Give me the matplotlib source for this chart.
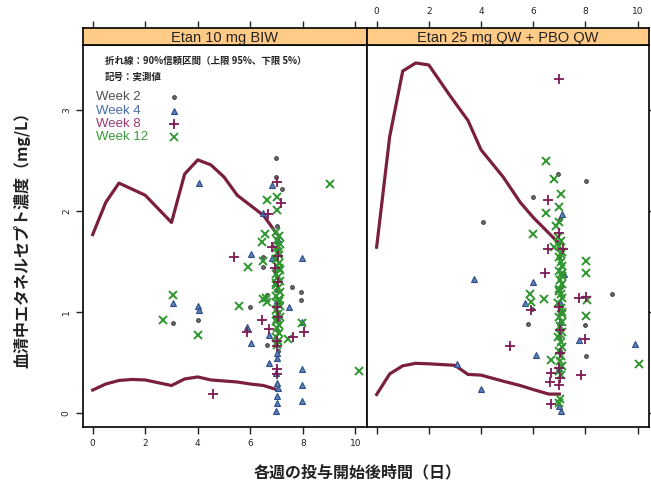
import matplotlib as mpl
mpl.use('Agg')
import matplotlib.pyplot as plt

jp = ['Noto Sans CJK JP', 'DejaVu Sans']
lat = ['Liberation Sans', 'DejaVu Sans']

panel_titles = ['Etan 10 mg BIW', 'Etan 25 mg QW + PBO QW']
week_names = ['Week 2', 'Week 4', 'Week 8', 'Week 12']

# 90% interval lines (upper 95%, lower 5%)
p1_up_x = [0, 0.5, 1, 2, 3, 3.5, 4, 4.5, 5, 5.5, 6, 6.5, 7]
p1_up_y = [1.77, 2.09, 2.28, 2.16, 1.89, 2.37, 2.51, 2.46, 2.34, 2.16, 2.06, 1.96, 1.78]
p1_lo_x = [0, 0.5, 1, 1.5, 2, 3, 3.5, 4, 4.5, 5, 5.5, 6, 6.5, 7]
p1_lo_y = [0.23, 0.29, 0.325, 0.335, 0.33, 0.275, 0.34, 0.36, 0.33, 0.32, 0.31, 0.29, 0.275, 0.235]
p2_up_x = [0, 0.5, 1, 1.5, 2, 2.8, 3.5, 4, 4.85, 5.5, 6, 6.5, 7]
p2_up_y = [1.645, 2.74, 3.39, 3.47, 3.45, 3.15, 2.9, 2.61, 2.34, 2.09, 1.94, 1.81, 1.68]
p2_lo_x = [0, 0.5, 1, 1.5, 2, 3, 3.5, 4, 4.85, 5.5, 6, 6.6, 7]
p2_lo_y = [0.186, 0.39, 0.47, 0.495, 0.49, 0.475, 0.385, 0.378, 0.318, 0.275, 0.235, 0.19, 0.19]

# observed values, panel 1
p1_w2_x = [3.06, 3.99, 5.98, 6.97, 6.97, 7.19, 6.49, 6.49, 7.6, 7.92, 7.92, 6.64, 7.02, 7.05, 7.0, 6.98, 7.04, 7.0, 7.06, 6.62]
p1_w2_y = [0.89, 0.92, 1.05, 2.53, 2.34, 2.22, 1.55, 1.45, 1.25, 1.20, 1.125, 0.68, 1.86, 1.62, 1.35, 1.22, 1.0, 0.82, 0.62, 1.17]
p1_w4_x = [3.04, 3.99, 4.03, 4.06, 6.01, 5.86, 6.01, 6.84, 6.49, 6.81, 7.98, 7.47, 6.72, 6.72, 7.97, 7.97, 7.97, 7.98,
           6.98, 7.0, 7.02, 7.04, 7.02, 7.0, 7.0, 7.02, 7.0, 7.04, 6.98]
p1_w4_y = [1.09, 1.06, 1.02, 2.28, 1.58, 0.855, 0.70, 2.26, 1.98, 1.54, 1.535, 1.05, 0.78, 0.50, 0.435, 0.285, 0.12, 0.90,
           0.02, 0.10, 0.17, 0.25, 0.30, 0.55, 0.60, 1.12, 0.95, 1.72, 0.40]
p1_w8_x = [4.56, 5.39, 5.86, 7.0, 7.15, 6.68, 6.81, 6.93, 6.43, 6.72, 8.04, 7.63, 7.02, 7.02, 7.02, 7.04, 7.0, 7.06, 7.04, 7.0]
p1_w8_y = [0.19, 1.545, 0.81, 2.29, 2.08, 1.97, 1.645, 1.44, 0.925, 0.83, 0.81, 0.76, 0.67, 0.435, 0.385, 1.30, 1.05, 0.95, 1.56, 0.72]
p1_w12_x = [2.68, 3.04, 4.0, 5.92, 5.57, 9.04, 10.13, 6.62, 7.03, 7.0, 6.55, 6.43, 6.47, 6.62, 6.58, 6.49, 7.98, 7.44,
            6.96, 7.08, 7.0, 7.12, 6.98, 7.06, 7.10, 6.97, 7.09, 7.01, 7.12, 6.99, 7.05, 7.11, 6.96, 7.07,
            7.12, 6.98, 7.09, 7.02, 7.11, 6.96, 7.06, 7.12, 6.99, 7.08, 7.01, 7.10, 6.97, 7.07, 7.03,
            7.05, 7.09, 6.99, 7.10, 7.02]
p1_w12_y = [0.925, 1.17, 0.78, 1.45, 1.065, 2.275, 0.42, 2.11, 2.14, 2.01, 1.78, 1.70, 1.505, 1.10, 1.14, 1.13, 0.89, 0.74,
            1.80, 1.76, 1.72, 1.68, 1.64, 1.60, 1.57, 1.53, 1.49, 1.46, 1.42, 1.38, 1.35, 1.31, 1.27, 1.24,
            1.20, 1.16, 1.13, 1.09, 1.06, 1.02, 0.98, 0.95, 0.91, 0.87, 0.84, 0.80, 0.76, 0.72, 0.68,
            1.66, 1.44, 1.29, 1.11, 0.93]

# observed values, panel 2
p2_w2_x = [6.96, 8.03, 5.98, 4.06, 5.96, 5.79, 7.98, 8.01, 9.0, 7.04, 7.0, 7.06, 7.02, 7.0, 7.04]
p2_w2_y = [2.375, 2.30, 2.14, 1.89, 1.03, 0.88, 0.87, 0.57, 1.18, 1.92, 1.55, 1.25, 1.0, 0.75, 0.62]
p2_w4_x = [7.1, 5.98, 7.19, 3.74, 5.7, 6.12, 3.07, 3.99, 9.89, 7.76, 7.06, 7.0, 7.04, 7.0, 7.02]
p2_w4_y = [1.97, 1.30, 1.38, 1.33, 1.09, 0.575, 0.49, 0.245, 0.685, 0.73, 0.02, 0.07, 0.9, 0.45, 1.1]
p2_w8_x = [7.0, 6.58, 7.0, 6.55, 7.15, 6.46, 5.93, 5.12, 7.76, 8.01, 7.98, 7.82, 6.68, 6.64, 7.0, 7.02, 7.0, 6.68, 7.04, 7.0, 7.02]
p2_w8_y = [3.31, 2.11, 1.79, 1.63, 1.63, 1.385, 1.02, 0.67, 1.14, 1.15, 0.74, 0.375, 0.40, 0.31, 0.45, 0.35, 0.285, 0.087, 0.82, 1.05, 0.6]
p2_w12_x = [6.49, 6.81, 7.06, 7.0, 6.49, 6.87, 7.0, 6.0, 6.81, 8.01, 8.01, 5.88, 5.92, 6.43, 8.07, 8.01, 6.68, 7.0, 10.04,
            6.96, 7.08, 7.0, 7.12, 6.98, 7.06, 7.10, 6.97, 7.09, 7.01, 7.12, 6.99, 7.05, 7.11, 6.96, 7.07,
            7.12, 6.98, 7.09, 7.02, 7.11, 6.96, 7.06, 7.12, 6.99, 7.08, 7.01, 7.10, 6.97, 7.07, 7.03,
            7.05, 7.09, 6.99, 7.10, 7.02]
p2_w12_y = [2.50, 2.325, 2.17, 2.04, 1.98, 1.86, 1.89, 1.78, 1.645, 1.505, 1.385, 1.18, 1.10, 1.13, 1.12, 0.965, 0.53, 0.10, 0.485,
            1.75, 1.71, 1.66, 1.60, 1.55, 1.50, 1.46, 1.41, 1.36, 1.32, 1.28, 1.23, 1.18, 1.14, 1.09, 1.04,
            1.00, 0.95, 0.90, 0.86, 0.81, 0.76, 0.71, 0.66, 0.62, 0.57, 0.52, 0.47, 0.42, 0.38, 0.14,
            1.58, 1.39, 1.21, 0.98, 0.79]

line_col = '#7A1F3D'
week_cols = ['#3a3a3a', '#4A6EA8', '#7D1A55', '#2F962F']
text_cols = ['#505050', '#4A6DA7', '#9B3A73', '#3A9A3A']
xticks = [0, 2, 4, 6, 8, 10]
yticks = [0, 1, 2, 3]
xlim = (-0.38, 10.42)

fig = plt.figure(figsize=(6.51, 4.86), dpi=100)
ax1 = fig.add_axes([0.127, 0.122, 0.436, 0.785])
ax2 = fig.add_axes([0.5633, 0.122, 0.433, 0.785])

panels = [
    (ax1, p1_up_x, p1_up_y, p1_lo_x, p1_lo_y,
     [(p1_w2_x, p1_w2_y), (p1_w4_x, p1_w4_y), (p1_w8_x, p1_w8_y), (p1_w12_x, p1_w12_y)]),
    (ax2, p2_up_x, p2_up_y, p2_lo_x, p2_lo_y,
     [(p2_w2_x, p2_w2_y), (p2_w4_x, p2_w4_y), (p2_w8_x, p2_w8_y), (p2_w12_x, p2_w12_y)]),
]

for ax, ux, uy, lx, ly, obs in panels:
    ax.plot(ux, uy, color=line_col, lw=2.3, solid_joinstyle='round', zorder=2)
    ax.plot(lx, ly, color=line_col, lw=2.3, solid_joinstyle='round', zorder=2)
    # week 2 dots, week 4 triangles, week 8 plus, week 12 x
    ax.plot(obs[0][0], obs[0][1], 'o', ms=2.6, mfc='#777777', mec=week_cols[0], mew=0.8, ls='none', zorder=3)
    ax.plot(obs[1][0], obs[1][1], '^', ms=4.5, mfc='#5B7FBA', mec='#2F4F86', mew=0.8, ls='none', zorder=3)
    ax.plot(obs[2][0], obs[2][1], '+', ms=7, mec=week_cols[2], mew=1.3, ls='none', zorder=4)
    ax.plot(obs[3][0], obs[3][1], 'x', ms=5.5, mec=week_cols[3], mew=1.4, ls='none', zorder=3)
    ax.set_xlim(*xlim)
    ax.set_ylim(-0.133, 3.646)
    ax.set_xticks(xticks)
    ax.set_yticks(yticks)
    for sp in ax.spines.values():
        sp.set_linewidth(1.2)
    ax.tick_params(direction='out', length=5, width=1, labelsize=6.5, colors='#222222')

ax1.tick_params(top=False, right=False)
ax1.set_yticklabels([str(t) for t in yticks], rotation=90, va='center')
ax2.tick_params(bottom=True, labelbottom=False, left=False, labelleft=False,
                right=True, labelright=False)

# strips on top; top-side ticks belong to the strip
for i, (ax, title) in enumerate(zip([ax1, ax2], panel_titles)):
    pos = ax.get_position()
    sax = fig.add_axes([pos.x0, pos.y1, pos.width, 0.036])
    sax.set_facecolor('#FFCB86')
    sax.set_xlim(*xlim)
    sax.set_xticks(xticks)
    sax.set_yticks([])
    sax.tick_params(axis='x', bottom=False, labelbottom=False, top=True, labeltop=(i == 1),
                    direction='out', length=5, width=1, labelsize=6.5, colors='#222222')
    for sp in sax.spines.values():
        sp.set_linewidth(1.2)
    sax.text(0.5, 0.42, title, ha='center', va='center', fontsize=10.5, family=lat,
             color='#222222', transform=sax.transAxes)

# key inside panel 1
fig.text(105 / 651, 1 - 61 / 486, '折れ線：90%信頼区間（上限 95%、下限 5%）', family=jp,
         fontsize=6.8, weight='bold', va='center', color='#222222')
fig.text(105 / 651, 1 - 76.5 / 486, '記号：実測値', family=jp,
         fontsize=6.8, weight='bold', va='center', color='#222222')
key_y = [97.5, 110.5, 124, 137]
key_style = [('o', 2.6), ('^', 4.5), ('+', 7), ('x', 5.5)]
for i, name in enumerate(week_names):
    fy = 1 - key_y[i] / 486
    fig.text(96.5 / 651, fy, name, family=lat, fontsize=9.5, va='center', color=text_cols[i])
    m, s = key_style[i]
    if m == 'o':
        fig.lines.append(plt.Line2D([173.5 / 651], [fy], marker=m, ms=s, mfc='#777777', mec=week_cols[0],
                                    mew=0.8, ls='none', transform=fig.transFigure))
    elif m == '^':
        fig.lines.append(plt.Line2D([173.5 / 651], [fy], marker=m, ms=s, mfc='#5B7FBA', mec='#2F4F86',
                                    mew=0.8, ls='none', transform=fig.transFigure))
    else:
        fig.lines.append(plt.Line2D([173.5 / 651], [fy], marker=m, ms=s, mec=week_cols[i],
                                    mew=1.3, ls='none', transform=fig.transFigure))

fig.text(22 / 651, 0.5145, '血清中エタネルセプト濃度（mg/L）', family=jp, fontsize=11.5,
         weight='bold', rotation=90, ha='center', va='center', color='#222222')
fig.text(358 / 651, 1 - 472 / 486, '各週の投与開始後時間（日）', family=jp, fontsize=11.5,
         weight='bold', ha='center', va='center', color='#222222')

fig.savefig('out.png', dpi=100)
